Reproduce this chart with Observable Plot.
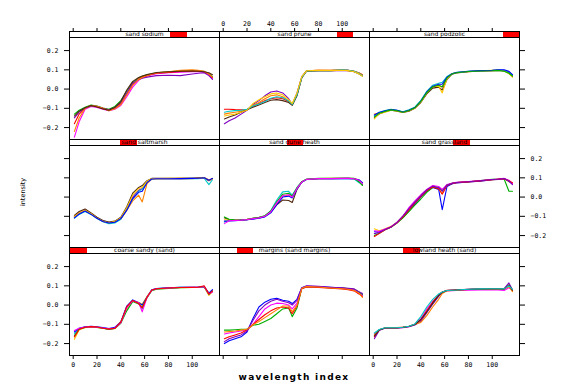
<!DOCTYPE html>
<html><head><meta charset="utf-8">
<script src="https://cdn.jsdelivr.net/npm/d3@7"></script>
<script src="https://cdn.jsdelivr.net/npm/@observablehq/plot@0.6"></script>
<style>
body{margin:0;background:#fff;}
#chart{position:relative;width:572px;height:385px;overflow:hidden;background:#fff;font-family:"DejaVu Sans",sans-serif;}
.panel{position:absolute;}
.strip{position:absolute;box-sizing:border-box;border:1px solid #000;background:#fff;overflow:hidden;}
.strip .lvl{position:absolute;top:0;bottom:0;background:#ff0000;}
.strip .lab{position:absolute;left:0;right:0;top:-1px;text-align:center;font-size:6px;line-height:6px;color:#000;white-space:nowrap;}
.ylab{position:absolute;font-size:6.5px;color:#000;transform:rotate(-90deg);transform-origin:center;white-space:nowrap;}
.xlab{position:absolute;font-size:9px;font-weight:bold;letter-spacing:1.3px;color:#000;white-space:nowrap;text-align:center;}
</style>
</head><body>
<div id="chart"></div>
<script>
// wavelength index knots (shared by every spectrum)
const wavelength = [1,5,10,15,20,25,30,35,40,45,50,55,58,62,66,70,80,90,100,105,110,114,117];
const xTicks = [0,20,40,60,80,100];
const yTicks = [-0.2,-0.1,0,0.1,0.2];
// factor levels (lattice order: level 1 is bottom-left)
const levels = ["coarse sandy (sand)","margins (sand margins)","lowland heath (sand)",
                "sand saltmarsh","sand dune heath","sand grassland",
                "sand sodium","sand prune","sand podzolic"];

// intensity spectra per level
const spectra1 = [
 [-0.15,-0.122,-0.114,-0.112,-0.115,-0.12,-0.126,-0.12,-0.09,-0.01,0.025,0.01,-0.02,0.04,0.078,0.086,0.09,0.092,0.092,0.093,0.097,0.06,0.075],
 [-0.178,-0.13,-0.117,-0.113,-0.116,-0.12,-0.124,-0.118,-0.085,-0.02,0.02,0.015,0.005,0.045,0.076,0.084,0.088,0.09,0.091,0.092,0.095,0.05,0.07],
 [-0.14,-0.12,-0.113,-0.11,-0.113,-0.117,-0.122,-0.116,-0.088,-0.005,0.027,0.012,0.0,0.042,0.079,0.086,0.09,0.092,0.093,0.094,0.096,0.062,0.08],
 [-0.16,-0.125,-0.116,-0.113,-0.116,-0.12,-0.127,-0.122,-0.095,-0.03,0.018,0.005,-0.01,0.038,0.075,0.083,0.087,0.09,0.091,0.092,0.094,0.055,0.072],
 [-0.132,-0.12,-0.114,-0.112,-0.115,-0.119,-0.123,-0.119,-0.092,-0.015,0.022,0.012,-0.035,0.04,0.077,0.085,0.089,0.091,0.092,0.093,0.095,0.058,0.068],
 [-0.165,-0.126,-0.115,-0.112,-0.114,-0.12,-0.125,-0.121,-0.089,-0.008,0.024,0.008,-0.015,0.041,0.078,0.085,0.089,0.091,0.092,0.093,0.1,0.057,0.074]
];
const spectra2 = [
 [-0.2,-0.185,-0.175,-0.165,-0.14,-0.07,-0.01,0.015,0.03,0.035,0.025,0.02,0.008,0.03,0.09,0.098,0.096,0.092,0.088,0.085,0.08,0.065,0.05],
 [-0.13,-0.13,-0.128,-0.126,-0.124,-0.105,-0.1,-0.085,-0.07,-0.045,-0.02,-0.015,-0.06,-0.015,0.085,0.095,0.093,0.09,0.088,0.086,0.082,0.068,0.055],
 [-0.15,-0.145,-0.14,-0.135,-0.128,-0.1,-0.06,-0.02,0.0,0.01,0.008,0.0,-0.02,0.01,0.088,0.097,0.095,0.09,0.087,0.083,0.078,0.06,0.05],
 [-0.175,-0.165,-0.155,-0.145,-0.13,-0.1,-0.075,-0.05,-0.03,-0.015,-0.01,-0.015,-0.045,-0.005,0.085,0.094,0.092,0.088,0.084,0.08,0.074,0.058,0.045],
 [-0.19,-0.175,-0.165,-0.155,-0.135,-0.08,-0.03,0.0,0.02,0.03,0.02,0.012,0.0,0.025,0.09,0.1,0.097,0.093,0.09,0.087,0.084,0.07,0.06],
 [-0.14,-0.138,-0.135,-0.13,-0.126,-0.102,-0.085,-0.065,-0.045,-0.025,-0.005,-0.005,-0.035,0.0,0.087,0.096,0.094,0.089,0.085,0.082,0.076,0.062,0.04]
];
const spectra3 = [
 [-0.15,-0.128,-0.12,-0.12,-0.12,-0.117,-0.112,-0.1,-0.07,-0.02,0.02,0.05,0.065,0.074,0.075,0.076,0.077,0.078,0.078,0.078,0.076,0.09,0.08],
 [-0.165,-0.13,-0.118,-0.118,-0.118,-0.115,-0.11,-0.1,-0.078,-0.03,0.015,0.055,0.068,0.077,0.078,0.079,0.082,0.084,0.085,0.085,0.085,0.1,0.075],
 [-0.175,-0.132,-0.119,-0.118,-0.118,-0.115,-0.112,-0.103,-0.085,-0.04,0.005,0.045,0.066,0.076,0.077,0.078,0.082,0.085,0.085,0.086,0.086,0.115,0.08],
 [-0.155,-0.128,-0.118,-0.117,-0.117,-0.114,-0.11,-0.1,-0.09,-0.055,-0.01,0.03,0.06,0.074,0.076,0.077,0.081,0.083,0.084,0.084,0.084,0.095,0.07],
 [-0.16,-0.13,-0.119,-0.119,-0.119,-0.116,-0.111,-0.101,-0.075,-0.035,0.01,0.05,0.066,0.076,0.077,0.078,0.081,0.083,0.084,0.084,0.083,0.105,0.078],
 [-0.145,-0.127,-0.118,-0.118,-0.118,-0.115,-0.11,-0.098,-0.06,-0.01,0.03,0.058,0.068,0.076,0.077,0.078,0.082,0.084,0.085,0.085,0.084,0.1,0.082]
];
const spectra4 = [
 [-0.1,-0.08,-0.065,-0.085,-0.108,-0.125,-0.132,-0.128,-0.11,-0.06,0.0,0.035,0.045,0.08,0.095,0.096,0.096,0.096,0.097,0.097,0.1,0.088,0.095],
 [-0.105,-0.085,-0.07,-0.088,-0.11,-0.127,-0.135,-0.13,-0.115,-0.07,-0.02,0.01,-0.025,0.07,0.093,0.095,0.095,0.097,0.096,0.098,0.1,0.09,0.094],
 [-0.095,-0.075,-0.062,-0.082,-0.105,-0.122,-0.13,-0.125,-0.105,-0.05,0.02,0.05,0.06,0.085,0.097,0.097,0.097,0.098,0.098,0.1,0.1,0.085,0.097],
 [-0.11,-0.09,-0.075,-0.09,-0.112,-0.128,-0.138,-0.135,-0.115,-0.065,-0.01,0.03,0.04,0.078,0.094,0.096,0.096,0.096,0.097,0.096,0.098,0.065,0.09],
 [-0.1,-0.082,-0.068,-0.086,-0.108,-0.126,-0.133,-0.127,-0.108,-0.055,0.01,0.045,0.05,0.082,0.096,0.096,0.097,0.097,0.097,0.098,0.1,0.087,0.093],
 [-0.108,-0.088,-0.072,-0.09,-0.11,-0.127,-0.135,-0.131,-0.112,-0.068,-0.008,0.025,0.03,0.075,0.094,0.095,0.095,0.096,0.097,0.098,0.1,0.088,0.096]
];
const spectra5 = [
 [-0.108,-0.118,-0.12,-0.12,-0.117,-0.11,-0.106,-0.098,-0.075,-0.04,-0.015,-0.018,-0.028,0.04,0.078,0.092,0.096,0.096,0.097,0.097,0.096,0.085,0.065],
 [-0.13,-0.122,-0.122,-0.121,-0.118,-0.113,-0.11,-0.1,-0.07,-0.015,0.027,0.03,0.01,0.05,0.08,0.093,0.096,0.096,0.097,0.096,0.094,0.075,0.07],
 [-0.118,-0.12,-0.12,-0.119,-0.116,-0.112,-0.108,-0.1,-0.078,-0.035,0.005,0.01,0.0,0.045,0.079,0.092,0.096,0.097,0.097,0.098,0.096,0.088,0.072],
 [-0.125,-0.124,-0.123,-0.12,-0.118,-0.115,-0.11,-0.103,-0.082,-0.04,0.0,0.005,-0.005,0.042,0.077,0.091,0.095,0.095,0.096,0.097,0.095,0.09,0.075],
 [-0.103,-0.115,-0.118,-0.119,-0.116,-0.11,-0.105,-0.097,-0.072,-0.025,0.015,0.02,0.005,0.048,0.08,0.093,0.097,0.097,0.098,0.098,0.097,0.08,0.06],
 [-0.138,-0.123,-0.121,-0.12,-0.117,-0.112,-0.108,-0.1,-0.076,-0.03,0.008,0.012,0.0,0.045,0.078,0.092,0.096,0.096,0.097,0.097,0.095,0.087,0.07]
];
const spectra6 = [
 [-0.165,-0.175,-0.165,-0.152,-0.13,-0.1,-0.062,-0.028,0.005,0.035,0.055,0.045,0.02,0.062,0.07,0.076,0.08,0.085,0.09,0.092,0.095,0.08,0.07],
 [-0.18,-0.182,-0.168,-0.155,-0.133,-0.105,-0.07,-0.035,0.0,0.03,0.05,0.04,-0.065,0.055,0.068,0.074,0.078,0.083,0.09,0.092,0.096,0.082,0.068],
 [-0.2,-0.188,-0.17,-0.157,-0.135,-0.108,-0.075,-0.042,-0.01,0.025,0.05,0.05,0.035,0.063,0.071,0.076,0.08,0.086,0.092,0.094,0.094,0.03,0.03],
 [-0.175,-0.178,-0.166,-0.154,-0.132,-0.1,-0.055,-0.02,0.012,0.04,0.06,0.055,0.04,0.065,0.072,0.077,0.081,0.086,0.091,0.094,0.097,0.088,0.07],
 [-0.205,-0.19,-0.17,-0.156,-0.134,-0.103,-0.068,-0.03,0.002,0.033,0.052,0.042,0.015,0.06,0.07,0.075,0.079,0.084,0.09,0.093,0.095,0.085,0.075],
 [-0.19,-0.184,-0.168,-0.155,-0.132,-0.098,-0.06,-0.025,0.008,0.038,0.057,0.05,0.03,0.063,0.071,0.076,0.08,0.085,0.091,0.093,0.096,0.084,0.065]
];
const spectra7 = [
 [-0.13,-0.11,-0.095,-0.083,-0.088,-0.098,-0.105,-0.09,-0.06,-0.01,0.035,0.058,0.066,0.074,0.08,0.085,0.09,0.095,0.096,0.095,0.092,0.08,0.065],
 [-0.25,-0.17,-0.105,-0.09,-0.095,-0.105,-0.113,-0.105,-0.085,-0.04,0.01,0.045,0.058,0.068,0.075,0.08,0.085,0.088,0.09,0.09,0.088,0.075,0.055],
 [-0.18,-0.13,-0.1,-0.086,-0.092,-0.1,-0.11,-0.1,-0.075,-0.025,0.025,0.052,0.062,0.07,0.077,0.082,0.087,0.092,0.094,0.093,0.09,0.078,0.06],
 [-0.15,-0.12,-0.098,-0.088,-0.09,-0.1,-0.108,-0.097,-0.07,-0.02,0.03,0.05,0.056,0.062,0.066,0.07,0.072,0.07,0.078,0.082,0.085,0.07,0.05],
 [-0.22,-0.15,-0.1,-0.085,-0.09,-0.1,-0.112,-0.102,-0.08,-0.03,0.02,0.05,0.06,0.07,0.078,0.084,0.09,0.098,0.1,0.098,0.093,0.078,0.062],
 [-0.14,-0.115,-0.097,-0.085,-0.093,-0.103,-0.11,-0.095,-0.065,-0.005,0.04,0.06,0.068,0.075,0.081,0.086,0.09,0.093,0.094,0.093,0.09,0.085,0.075]
];
const spectra8 = [
 [-0.105,-0.105,-0.107,-0.108,-0.106,-0.09,-0.075,-0.06,-0.05,-0.045,-0.05,-0.065,-0.08,-0.03,0.06,0.095,0.097,0.097,0.1,0.098,0.093,0.085,0.075],
 [-0.18,-0.165,-0.15,-0.13,-0.11,-0.08,-0.06,-0.035,-0.015,-0.01,-0.02,-0.05,-0.08,-0.02,0.065,0.094,0.096,0.095,0.097,0.095,0.09,0.08,0.07],
 [-0.13,-0.125,-0.12,-0.115,-0.108,-0.085,-0.07,-0.05,-0.035,-0.03,-0.04,-0.06,-0.078,-0.025,0.062,0.095,0.097,0.096,0.098,0.096,0.092,0.083,0.073],
 [-0.155,-0.145,-0.135,-0.12,-0.107,-0.095,-0.083,-0.07,-0.058,-0.055,-0.06,-0.07,-0.085,-0.035,0.058,0.093,0.095,0.096,0.098,0.097,0.091,0.08,0.068],
 [-0.12,-0.115,-0.112,-0.11,-0.105,-0.088,-0.078,-0.065,-0.048,-0.04,-0.045,-0.062,-0.08,-0.03,0.06,0.094,0.096,0.096,0.1,0.098,0.092,0.082,0.07],
 [-0.14,-0.135,-0.13,-0.12,-0.11,-0.075,-0.055,-0.04,-0.025,-0.02,-0.03,-0.055,-0.075,-0.02,0.065,0.095,0.097,0.097,0.098,0.096,0.09,0.079,0.067]
];
const spectra9 = [
 [-0.13,-0.125,-0.115,-0.108,-0.112,-0.12,-0.112,-0.098,-0.065,-0.02,0.01,0.018,0.01,0.06,0.08,0.086,0.091,0.095,0.096,0.098,0.095,0.09,0.07],
 [-0.15,-0.13,-0.118,-0.11,-0.115,-0.122,-0.115,-0.1,-0.07,-0.025,0.005,0.01,-0.005,0.05,0.077,0.084,0.09,0.094,0.095,0.097,0.094,0.085,0.065],
 [-0.14,-0.12,-0.112,-0.105,-0.11,-0.118,-0.108,-0.094,-0.06,-0.012,0.02,0.03,0.035,0.065,0.08,0.087,0.092,0.096,0.098,0.1,0.097,0.088,0.072],
 [-0.155,-0.128,-0.12,-0.11,-0.114,-0.121,-0.113,-0.1,-0.068,-0.02,0.012,0.015,-0.02,0.055,0.078,0.085,0.09,0.095,0.097,0.098,0.094,0.08,0.062],
 [-0.135,-0.122,-0.113,-0.106,-0.11,-0.119,-0.11,-0.096,-0.062,-0.015,0.015,0.025,0.025,0.062,0.079,0.086,0.092,0.096,0.097,0.1,0.1,0.092,0.075],
 [-0.145,-0.126,-0.116,-0.108,-0.113,-0.12,-0.111,-0.097,-0.064,-0.018,0.012,0.02,0.012,0.058,0.078,0.085,0.091,0.094,0.095,0.097,0.093,0.082,0.068]
];
const spectraByLevel = [spectra1,spectra2,spectra3,spectra4,spectra5,spectra6,spectra7,spectra8,spectra9];

// styles
const palette = ["#00c8c8","#ffc800","#0000ff","#00b000","#ff00ff","#ff0000","#8000c0","#ff8000","#502810"];
const colLeft = [69,219,369], rowTop = [31,139,247];
const panelW = 150, panelH = 102, stripH = 6;
const mL = 40, mR = 40, mT = 22, mB = 22;
const xDomain = [-3.1, 122.9], yDomain = [-0.262, 0.268];

const chart = document.getElementById("chart");
const fmtY = d3.format(".1f");

levels.forEach((name, li) => {
  const row = 2 - Math.floor(li / 3), col = li % 3;
  const rows = [];
  spectraByLevel[li].forEach((line, si) => {
    line.forEach((v, k) => rows.push({x: wavelength[k], y: v, s: si, c: palette[(si + li * 2) % palette.length]}));
  });
  const marks = [
    Plot.line(rows, {x: "x", y: "y", z: "s", stroke: "c", strokeWidth: 1.1}),
    Plot.frame({stroke: "#000", strokeWidth: 1})
  ];
  if (row === 0) marks.push(Plot.axisX(xTicks, {anchor: "top", tickSize: 4, tickPadding: 2, dy: -stripH,
    tickFormat: col === 1 ? d => String(d) : () => "", label: null}));
  if (row === 2) marks.push(Plot.axisX(xTicks, {anchor: "bottom", tickSize: 4, tickPadding: 3,
    tickFormat: col !== 1 ? d => String(d) : () => "", label: null}));
  if (col === 0) marks.push(Plot.axisY(yTicks, {anchor: "left", tickSize: 5, tickPadding: 6,
    tickFormat: row !== 1 ? fmtY : () => "", label: null}));
  if (col === 2) marks.push(Plot.axisY(yTicks, {anchor: "right", tickSize: 5, tickPadding: 6,
    tickFormat: row === 1 ? fmtY : () => "", label: null}));
  const svg = Plot.plot({
    width: panelW + mL + mR, height: panelH + mT + mB,
    marginLeft: mL, marginRight: mR, marginTop: mT, marginBottom: mB,
    x: {domain: xDomain, axis: null},
    y: {domain: yDomain, axis: null},
    color: {type: "identity"},
    style: {background: "transparent", overflow: "visible", fontSize: "6.5px", fontFamily: "DejaVu Sans Mono, monospace", color: "#000"},
    marks
  });
  const wrap = document.createElement("div");
  wrap.className = "panel";
  wrap.style.left = (colLeft[col] - mL) + "px";
  wrap.style.top = (rowTop[row] + stripH - mT) + "px";
  wrap.appendChild(svg);
  chart.appendChild(wrap);

  const strip = document.createElement("div");
  strip.className = "strip";
  strip.style.left = colLeft[col] + "px";
  strip.style.top = rowTop[row] + "px";
  strip.style.width = (panelW + 1) + "px";
  strip.style.height = (stripH + 1) + "px";
  const lvl = document.createElement("div");
  lvl.className = "lvl";
  lvl.style.left = (li * panelW / 9) + "px";
  lvl.style.width = (panelW / 9) + "px";
  strip.appendChild(lvl);
  const lab = document.createElement("div");
  lab.className = "lab";
  lab.textContent = name;
  strip.appendChild(lab);
  chart.appendChild(strip);
});

const yl = document.createElement("div");
yl.className = "ylab";
yl.textContent = "intensity";
yl.style.left = "6px"; yl.style.top = "188px"; yl.style.width = "34px"; yl.style.textAlign = "center";
chart.appendChild(yl);

const xl = document.createElement("div");
xl.className = "xlab";
xl.textContent = "wavelength index";
xl.style.left = "194px"; xl.style.width = "200px"; xl.style.top = "372px";
chart.appendChild(xl);
</script>
</body></html>
